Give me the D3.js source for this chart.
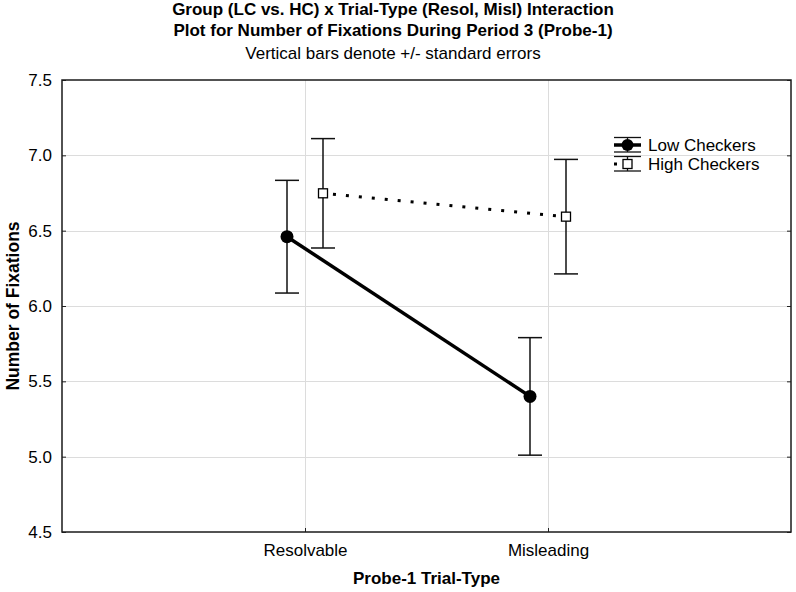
<!DOCTYPE html>
<html>
<head>
<meta charset="utf-8">
<script src="https://cdn.jsdelivr.net/npm/d3@7"></script>
<style>
  html, body { margin: 0; padding: 0; background: #fff; }
  svg { display: block; font-family: Arial, "Liberation Sans", sans-serif; }
</style>
</head>
<body>
<svg id="chart" width="796" height="592"></svg>
<script>
// ---- data ----
const categories = ["Resolvable", "Misleading"];
const seriesNames = ["Low Checkers", "High Checkers"];
const lowMeans = [6.46, 5.40];
const lowSE = [0.374, 0.39];
const highMeans = [6.748, 6.593];
const highSE = [0.363, 0.38];
const yTicks = [4.5, 5.0, 5.5, 6.0, 6.5, 7.0, 7.5];
const titleLines = ["Group (LC vs. HC) x Trial-Type (Resol, Misl) Interaction",
                    "Plot for Number of Fixations During Period 3 (Probe-1)"];
const subtitle = "Vertical bars denote +/- standard errors";
const xTitle = "Probe-1 Trial-Type";
const yTitle = "Number of Fixations";

// ---- layout ----
const svg = d3.select("#chart");
const L = 62, R = 791, T = 80, B = 532;
const FS = 17;

const x = d3.scalePoint().domain(categories).range([L, R]).padding(1);
const y = d3.scaleLinear().domain([4.5, 7.5]).range([B, T]);
const off = 18;

// gridlines
const grid = svg.append("g").attr("stroke", "#dcdcdc").attr("stroke-width", 1);
grid.selectAll("line.h").data(yTicks.slice(1, -1)).join("line")
  .attr("x1", L).attr("x2", R)
  .attr("y1", d => Math.round(y(d)) + 0.5).attr("y2", d => Math.round(y(d)) + 0.5);
grid.selectAll("line.v").data(categories).join("line")
  .attr("y1", T).attr("y2", B)
  .attr("x1", d => Math.round(x(d)) + 0.5).attr("x2", d => Math.round(x(d)) + 0.5);

// axes
const yAxis = d3.axisLeft(y).tickValues(yTicks).tickFormat(d3.format(".1f")).tickSize(-4).tickPadding(10);
const gy = svg.append("g").attr("transform", `translate(${L},0)`).call(yAxis);
gy.select(".domain").remove();
gy.selectAll("text").attr("font-size", FS).attr("fill", "#000").attr("font-family", "Arial, 'Liberation Sans', sans-serif");
gy.selectAll("line").attr("stroke", "#222");

const yAxisR = d3.axisRight(y).tickValues(yTicks).tickSize(-4).tickFormat("");
const gyr = svg.append("g").attr("transform", `translate(${R},0)`).call(yAxisR);
gyr.select(".domain").remove();
gyr.selectAll("line").attr("stroke", "#222");

const xAxis = d3.axisBottom(x).tickSize(-4).tickPadding(12);
const gx = svg.append("g").attr("transform", `translate(0,${B})`).call(xAxis);
gx.select(".domain").remove();
gx.selectAll("text").attr("font-size", FS).attr("fill", "#000").attr("font-family", "Arial, 'Liberation Sans', sans-serif");
gx.selectAll("line").attr("stroke", "#222");

// frame
svg.append("rect").attr("x", L).attr("y", T).attr("width", R - L).attr("height", B - T)
  .attr("fill", "none").attr("stroke", "#1a1a1a").attr("stroke-width", 1.5);

// series data
const low = categories.map((c, i) => ({c, m: lowMeans[i], se: lowSE[i], cx: x(c) - off}));
const high = categories.map((c, i) => ({c, m: highMeans[i], se: highSE[i], cx: x(c) + off}));

function errorBars(data) {
  const g = svg.append("g").attr("stroke", "#111").attr("stroke-width", 1.5).attr("fill", "none");
  g.selectAll("line.v").data(data).join("line")
    .attr("x1", d => d.cx).attr("x2", d => d.cx)
    .attr("y1", d => y(d.m + d.se)).attr("y2", d => y(d.m - d.se));
  g.selectAll("line.t").data(data).join("line")
    .attr("x1", d => d.cx - 12).attr("x2", d => d.cx + 12)
    .attr("y1", d => y(d.m + d.se)).attr("y2", d => y(d.m + d.se));
  g.selectAll("line.b").data(data).join("line")
    .attr("x1", d => d.cx - 12).attr("x2", d => d.cx + 12)
    .attr("y1", d => y(d.m - d.se)).attr("y2", d => y(d.m - d.se));
}
errorBars(low);
errorBars(high);

const line = d3.line().x(d => d.cx).y(d => y(d.m));
svg.append("path").datum(low).attr("d", line)
  .attr("fill", "none").attr("stroke", "#000").attr("stroke-width", 3.5);
svg.append("path").datum(high).attr("d", line)
  .attr("fill", "none").attr("stroke", "#000").attr("stroke-width", 3)
  .attr("stroke-dasharray", "3,10").attr("stroke-dashoffset", 3);

svg.selectAll("circle.low").data(low).join("circle")
  .attr("cx", d => d.cx).attr("cy", d => y(d.m)).attr("r", 6.5).attr("fill", "#000");
svg.selectAll("rect.high").data(high).join("rect")
  .attr("x", d => d.cx - 4.5).attr("y", d => y(d.m) - 4.5).attr("width", 9).attr("height", 9)
  .attr("fill", "#fff").attr("stroke", "#000").attr("stroke-width", 1.3);

// legend
const lg = svg.append("g");
const lx0 = 614, lx1 = 641, lcx = (lx0 + lx1) / 2;
const rows = [145, 164];
rows.forEach((ry, i) => {
  lg.append("line").attr("x1", lx0).attr("x2", lx1).attr("y1", ry - 7.5).attr("y2", ry - 7.5).attr("stroke", "#111").attr("stroke-width", 1.3);
  lg.append("line").attr("x1", lx0).attr("x2", lx1).attr("y1", ry + 7).attr("y2", ry + 7).attr("stroke", "#111").attr("stroke-width", 1.3);
  lg.append("line").attr("x1", lcx).attr("x2", lcx).attr("y1", ry - 7.5).attr("y2", ry + 7).attr("stroke", "#111").attr("stroke-width", 1.3);
  if (i === 0) {
    lg.append("line").attr("x1", lx0).attr("x2", lx1).attr("y1", ry).attr("y2", ry).attr("stroke", "#000").attr("stroke-width", 3.5);
    lg.append("circle").attr("cx", lcx).attr("cy", ry).attr("r", 6).attr("fill", "#000");
  } else {
    lg.append("rect").attr("x", lx0).attr("y", ry - 1.5).attr("width", 3).attr("height", 3).attr("fill", "#000");
    lg.append("rect").attr("x", lcx - 4.5).attr("y", ry - 4.5).attr("width", 9).attr("height", 9)
      .attr("fill", "#fff").attr("stroke", "#000").attr("stroke-width", 1.3);
  }
  lg.append("text").attr("x", 648).attr("y", ry).attr("dy", "0.35em")
    .attr("font-size", FS).attr("fill", "#000").text(seriesNames[i]);
});

// titles
svg.append("text").attr("x", 393).attr("y", 15).attr("text-anchor", "middle")
  .attr("font-size", FS).attr("font-weight", "bold").text(titleLines[0]);
svg.append("text").attr("x", 393).attr("y", 36).attr("text-anchor", "middle")
  .attr("font-size", FS).attr("font-weight", "bold").text(titleLines[1]);
svg.append("text").attr("x", 393).attr("y", 59).attr("text-anchor", "middle")
  .attr("font-size", FS).text(subtitle);

svg.append("text").attr("x", (L + R) / 2).attr("y", 584).attr("text-anchor", "middle")
  .attr("font-size", FS).attr("font-weight", "bold").text(xTitle);
svg.append("text").attr("transform", `translate(19,${(T + B) / 2}) rotate(-90)`)
  .attr("text-anchor", "middle").attr("font-size", 17.5).attr("font-weight", "bold").text(yTitle);
</script>
</body>
</html>
